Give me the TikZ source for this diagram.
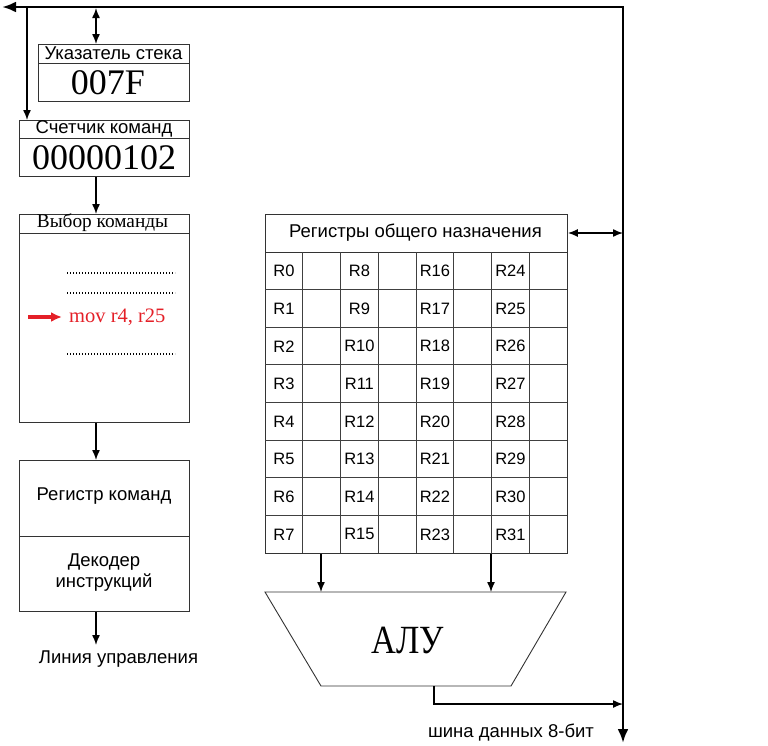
\documentclass[tikz,border=0pt]{standalone}
\usepackage{fontspec}
\setmainfont{Liberation Sans}
\newfontfamily\serif{Liberation Serif}
\usetikzlibrary{arrows.meta}
\definecolor{redarr}{RGB}{228,32,40}
\begin{document}
\begin{tikzpicture}[x=1pt,y=-1pt,
 box/.style={draw=black!80, line width=0.9pt, inner sep=0pt, anchor=north west},
 sep/.style={draw=black!80, line width=0.9pt},
 lbl/.style={inner sep=0pt, font=\fontsize{18.5}{22}\selectfont},
 reg/.style={inner sep=0pt, font=\fontsize{16.5}{20}\selectfont},
 big/.style={inner sep=0pt, font=\serif\fontsize{36}{40}\selectfont},
 arr/.style={line width=1.4pt, -{Latex[length=10pt,width=8pt]}},
 darr/.style={line width=1.4pt, {Latex[length=10pt,width=8pt]}-{Latex[length=10pt,width=8pt]}},
 bus/.style={line width=2.8pt, line join=miter, {Latex[length=14pt,width=11pt]}-{Latex[length=14pt,width=11pt]}},
 cell/.style={draw=black!75, line width=0.8pt},
 dotline/.style={line width=1.6pt, dash pattern=on 1.3pt off 1.7pt},
]
\useasboundingbox (0,0) rectangle (768,745);

% bus
\coordinate (busTL) at (2,7);
\coordinate (busTR) at (623,7);
\coordinate (busB) at (623,743);
\draw[bus] (busTL) -- (busTR) -- (busB);

% stack pointer
\node[box, minimum width=151pt, minimum height=57pt] (sp) at (38,44) {};
\draw[sep] (38,63) -- (189,63);
\node[lbl] (spt) at (113.5,53.5) {Указатель стека};
\node[big] (spv) at (108,83) {007F};

% program counter
\node[box, minimum width=170pt, minimum height=56pt] (pc) at (19,120) {};
\draw[sep] (19,138) -- (189,138);
\node[lbl] (pct) at (104,129) {Счетчик команд};
\node[big] (pcv) at (104,157.5) {00000102};

% bus branches
\coordinate (j1) at (27,7);
\draw[arr] (j1) -- (j1 |- pc.north);
\coordinate (j2) at (96,8);
\draw[darr] (j2) -- (j2 |- sp.north);

% instruction fetch
\node[box, minimum width=170pt, minimum height=208pt] (sel) at (19,214) {};
\draw[sep] (19,233) -- (189,233);
\node[inner sep=0pt, font=\serif\fontsize{19.3}{22}\selectfont] (selt) at (102.5,223) {Выбор команды};
\draw[arr] (pc.south -| 96,0) -- (sel.north -| 96,0);
\coordinate (d1a) at (67,273); \coordinate (d1b) at (175,273);
\coordinate (d2a) at (67,293); \coordinate (d2b) at (175,293);
\coordinate (d3a) at (67,354); \coordinate (d3b) at (175,354);
\draw[dotline] (d1a) -- (d1b);
\draw[dotline] (d2a) -- (d2b);
\draw[dotline] (d3a) -- (d3b);
\node[inner sep=0pt, anchor=west, text=redarr, font=\serif\fontsize{20.5}{24}\selectfont] (mov) at (69,317) {mov r4, r25};
\coordinate (ra) at (28,317);
\coordinate (rb) at (62,317);
\draw[redarr, line width=3.6pt, -{Latex[length=11pt,width=10pt]}] (ra) -- (rb);

% instruction register / decoder
\node[box, minimum width=170pt, minimum height=151pt] (ir) at (19,460) {};
\draw[sep] (19,536) -- (189,536);
\node[lbl] (irt) at (104,496) {Регистр команд};
\node[lbl, align=center, font=\fontsize{18.5}{21.6}\selectfont] (dec) at (104,572.5) {Декодер\\инструкций};
\draw[arr] (sel.south -| 96,0) -- (ir.north -| 96,0);
\coordinate (ctl) at (96,645);
\draw[arr] (ir.south -| 96,0) -- (ctl);
\node[lbl] (ctlt) at (118.5,659) {Линия управления};

% registers
\node[box, minimum width=302pt, minimum height=339pt] (rg) at (265,214) {};
\draw[sep] (265,252) -- (567,252);
\node[lbl] (rgt) at (415.5,233) {Регистры общего назначения};
\foreach \i in {1,...,7} {
  \draw[cell] (265,252+\i*37.625) -- (567,252+\i*37.625);
  \draw[cell] (265+\i*37.75,252) -- (265+\i*37.75,553);
}
\foreach \c in {0,...,3} {
  \foreach \r in {0,...,7} {
    \pgfmathtruncatemacro{\n}{8*\c+\r}
    \node[reg] (r\n) at (283.9+75.5*\c, 252+37.625*\r+19) {R\n};
  }
}
\draw[darr] (rg.east |- rgt) -- (busTR |- rgt);

% ALU
\coordinate (a1) at (265,592);
\coordinate (a2) at (566,592);
\coordinate (a3) at (511,686);
\coordinate (a4) at (321,686);
\draw[draw=black!80, line width=0.9pt] (a1) -- (a2) -- (a3) -- (a4) -- cycle;
\node[inner sep=0pt, font=\serif\fontsize{40}{44}\selectfont, xscale=0.86] (alu) at (407.5,640) {АЛУ};
\coordinate (in1) at (321,592);
\coordinate (in2) at (491,592);
\draw[arr] (in1 |- rg.south) -- (in1);
\draw[arr] (in2 |- rg.south) -- (in2);
\coordinate (out) at (434,686);
\coordinate (outc) at (434,704);
\draw[arr] (out) -- (outc) -- (busB |- outc);
\node[lbl] (bust) at (511,733) {шина данных 8-бит};
\end{tikzpicture}
\end{document}
